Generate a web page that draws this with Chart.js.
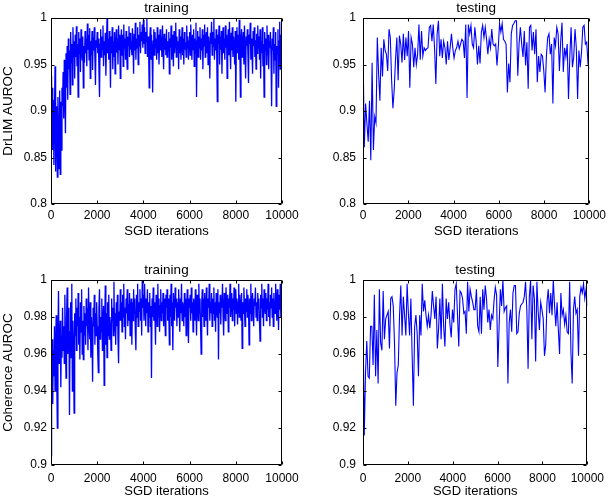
<!DOCTYPE html>
<html>
<head>
<meta charset="utf-8">
<script src="https://cdn.jsdelivr.net/npm/chart.js@4.4.1/dist/chart.umd.min.js"></script>
<style>
  html, body { margin: 0; padding: 0; background: #fff; }
  #wrap { position: relative; width: 610px; height: 503px; }
  #wrap canvas { position: absolute; left: 0; top: 0; }
</style>
</head>
<body>
<div id="wrap">
  <canvas id="c1" width="610" height="503"></canvas>
  <canvas id="c2" width="610" height="503"></canvas>
  <canvas id="c3" width="610" height="503"></canvas>
  <canvas id="c4" width="610" height="503"></canvas>
</div>
<script>
// x axis: SGD iterations
const X_MAX = 10000;
const X_TICKS = [0, 2000, 4000, 6000, 8000, 10000];
const TRAIN_STEP = 25; // iterations between training samples

// y ticks
const DRLIM_TICKS = [0.8, 0.85, 0.9, 0.95, 1];
const COH_TICKS = [0.9, 0.92, 0.94, 0.96, 0.98, 1];

// DrLIM AUROC, training (one value every TRAIN_STEP iterations)
const drlimTrain = [
  0.938, 0.902, 0.925, 0.858, 0.912, 0.842, 0.896, 0.948, 0.835, 0.905, 0.870, 0.829, 0.915, 0.884, 0.838, 0.922, 0.832, 0.910, 0.858, 0.925,
  0.905, 0.942, 0.892, 0.955, 0.918, 0.876, 0.962, 0.925, 0.970, 0.912, 0.978, 0.945, 0.965, 0.918, 0.985, 0.952, 0.972, 0.928, 0.990, 0.958,
  0.975, 0.935, 0.982, 0.958, 0.991, 0.948, 0.972, 0.915, 0.985, 0.962, 0.978, 0.942, 0.988, 0.965, 0.955, 0.980, 0.925, 0.970, 0.952, 0.986,
  0.962, 0.978, 0.948, 0.994, 0.966, 0.982, 0.955, 0.989, 0.935, 0.975, 0.960, 0.986, 0.944, 0.979, 0.965, 0.990, 0.958, 0.928, 0.976, 0.968,
  0.985, 0.962, 0.978, 0.945, 0.915, 0.972, 0.988, 0.958, 0.980, 0.966, 0.992, 0.948, 0.975, 0.960, 0.984, 0.938, 0.970, 0.999, 0.962, 0.978,
  0.955, 0.986, 0.968, 0.925, 0.980, 0.962, 0.990, 0.945, 0.975, 0.958, 0.985, 0.940, 0.972, 0.988, 0.963, 0.978, 0.950, 0.992, 0.966, 0.982,
  0.935, 0.975, 0.988, 0.960, 0.982, 0.948, 0.993, 0.968, 0.978, 0.955, 0.986, 0.962, 0.945, 0.980, 0.970, 0.991, 0.958, 0.984, 0.966, 0.975,
  0.960, 0.989, 0.972, 0.940, 0.983, 0.965, 0.995, 0.955, 0.978, 0.968, 0.990, 0.950, 0.982, 0.970, 0.996, 0.962, 0.985, 0.975, 0.993, 0.968,
  0.998, 0.972, 0.990, 0.962, 0.985, 0.975, 0.999, 0.958, 0.980, 0.968, 0.925, 0.978, 0.990, 0.955, 0.982, 0.965, 0.920, 0.975, 0.988, 0.960,
  0.985, 0.968, 0.978, 0.955, 0.990, 0.962, 0.982, 0.950, 0.975, 0.988, 0.965, 0.980, 0.958, 0.992, 0.970, 0.945, 0.983, 0.966, 0.978, 0.960,
  0.988, 0.958, 0.975, 0.965, 0.985, 0.940, 0.978, 0.968, 0.992, 0.955, 0.982, 0.970, 0.948, 0.986, 0.962, 0.978, 0.995, 0.958, 0.980, 0.966,
  0.975, 0.945, 0.988, 0.962, 0.980, 0.955, 0.972, 0.990, 0.960, 0.978, 0.950, 0.985, 0.966, 0.974, 0.958, 0.992, 0.968, 0.980, 0.955, 0.975,
  0.985, 0.960, 0.993, 0.970, 0.955, 0.982, 0.966, 0.988, 0.948, 0.978, 0.962, 0.995, 0.915, 0.975, 0.986, 0.958, 0.980, 0.968, 0.990, 0.955,
  0.978, 0.965, 0.988, 0.945, 0.982, 0.970, 0.993, 0.958, 0.976, 0.985, 0.962, 0.990, 0.950, 0.980, 0.968, 0.935, 0.984, 0.972, 0.996, 0.960,
  0.985, 0.970, 0.999, 0.955, 0.978, 0.965, 0.988, 0.960, 0.910, 0.982, 0.972, 0.992, 0.950, 0.980, 0.966, 0.986, 0.940, 0.975, 0.990, 0.962,
  0.978, 0.955, 0.992, 0.968, 0.982, 0.935, 0.975, 0.988, 0.960, 0.996, 0.970, 0.945, 0.984, 0.965, 0.990, 0.958, 0.980, 0.972, 0.950, 0.986,
  0.910, 0.975, 0.990, 0.962, 0.982, 0.955, 0.998, 0.968, 0.915, 0.978, 0.988, 0.958, 0.972, 0.985, 0.950, 0.992, 0.965, 0.935, 0.980, 0.970,
  0.988, 0.960, 0.930, 0.982, 0.972, 0.995, 0.955, 0.978, 0.965, 0.940, 0.986, 0.970, 0.990, 0.958, 0.976, 0.945, 0.983, 0.962, 0.992, 0.968,
  0.980, 0.955, 0.988, 0.935, 0.975, 0.962, 0.990, 0.948, 0.972, 0.915, 0.985, 0.965, 0.978, 0.950, 0.992, 0.960, 0.982, 0.945, 0.975, 0.968,
  0.985, 0.958, 0.905, 0.978, 0.965, 0.990, 0.940, 0.972, 0.955, 0.985, 0.905, 0.970, 0.962, 0.988, 0.925, 0.975, 0.996, 0.945, 0.982, 0.950,
  0.958
];

// DrLIM AUROC, testing (evenly spaced over 0..X_MAX)
const drlimTest = [
  0.972, 0.861, 0.908, 0.887, 0.867, 0.911, 0.847, 0.952, 0.858, 0.894,
  0.887, 0.979, 0.940, 0.911, 0.968, 0.937, 0.977, 0.965, 0.961, 0.943,
  0.988, 0.979, 0.933, 0.903, 0.923, 0.955, 0.979, 0.933, 0.981, 0.972,
  0.952, 0.983, 0.955, 0.979, 0.959, 0.986, 0.925, 0.979, 0.972, 0.947,
  0.968, 0.950, 0.961, 0.993, 0.955, 0.986, 0.959, 0.968, 0.965, 0.967,
  0.968, 0.990, 0.992, 0.975, 0.993, 0.968, 0.929, 0.983, 0.997, 0.959,
  0.977, 0.957, 0.975, 0.968, 0.950, 0.975, 0.955, 0.968, 0.983, 0.968,
  0.957, 0.965, 0.968, 0.975, 0.967, 0.972, 0.977, 0.975, 0.957, 0.993,
  0.914, 0.993, 0.983, 0.992, 0.972, 0.968, 0.990, 0.975, 0.950,
  0.970, 0.951, 0.985, 0.992, 0.979, 0.990, 0.977, 0.961, 0.977, 0.968,
  0.988, 0.972, 0.970, 0.972, 0.949, 0.968, 0.994, 0.985, 0.994, 0.977,
  0.975, 0.972, 0.920, 0.951, 0.931, 0.983, 0.992, 0.994, 0.997, 0.997,
  0.938, 0.972, 0.990, 0.972, 0.958, 0.986, 0.949, 0.974, 0.924, 0.990,
  0.992, 0.965, 0.985, 0.961, 0.988, 0.931, 0.959, 0.942, 0.961, 0.959,
  0.943, 0.920, 0.959, 0.979, 0.983, 0.961, 0.972, 0.908, 0.979, 0.970,
  0.990, 0.983, 0.943, 0.975, 0.995, 0.942, 0.968, 0.958, 0.972, 0.913,
  0.958, 0.990, 0.947, 0.958, 0.988, 0.968, 0.913, 0.965, 0.947, 0.963,
  0.990, 0.992, 0.972, 0.974, 0.951, 0.945
];

// Coherence AUROC, training (one value every TRAIN_STEP iterations)
const cohTrain = [
  0.905, 0.958, 0.968, 0.933, 0.962, 0.948, 0.975, 0.940, 0.965, 0.981, 0.945, 0.920, 0.970, 0.994, 0.955, 0.962, 0.978, 0.942, 0.970, 0.958,
  0.985, 0.962, 0.975, 0.955, 0.992, 0.968, 0.947, 0.980, 0.996, 0.960, 0.975, 0.985, 0.927, 0.972, 0.988, 0.958, 0.998, 0.940, 0.978, 0.965,
  0.928, 0.982, 0.970, 0.990, 0.962, 0.985, 0.975, 0.993, 0.965, 0.980, 0.957, 0.988, 0.972, 0.995, 0.960, 0.978, 0.957, 0.986, 0.970, 0.982,
  0.965, 0.990, 0.975, 0.985, 0.962, 0.996, 0.978, 0.968, 0.988, 0.958, 0.980, 0.972, 0.945, 0.985, 0.975, 0.992, 0.965, 0.982, 0.970, 0.988,
  0.975, 0.960, 0.950, 0.985, 0.995, 0.968, 0.980, 0.972, 0.990, 0.962, 0.978, 0.986, 0.943, 0.975, 0.997, 0.965, 0.982, 0.958, 0.988, 0.970,
  0.992, 0.968, 0.980, 0.975, 0.962, 0.990, 0.978, 0.985, 0.970, 0.999, 0.972, 0.982, 0.965, 0.988, 0.975, 0.992, 0.968, 0.955, 0.983, 0.978,
  0.995, 0.978, 0.988, 0.972, 0.992, 0.980, 0.998, 0.975, 0.985, 0.968, 0.990, 0.982, 0.995, 0.975, 0.987, 0.978, 0.993, 0.970, 0.985, 0.990,
  0.965, 0.988, 0.978, 0.995, 0.982, 0.990, 0.972, 0.962, 0.992, 0.980, 0.998, 0.975, 0.988, 0.983, 0.995, 0.978, 0.990, 0.970, 1.000, 0.985,
  0.992, 0.978, 0.998, 0.985, 0.975, 0.990, 0.982, 0.995, 0.972, 0.988, 0.980, 0.993, 0.975, 0.986, 0.947, 0.990, 0.980, 0.996, 0.978, 0.988,
  0.982, 0.965, 0.992, 0.985, 0.975, 0.998, 0.980, 0.990, 0.972, 0.986, 0.995, 0.978, 0.988, 0.982, 0.993, 0.975, 0.990, 0.984, 0.970, 0.992,
  0.985, 0.995, 0.978, 0.990, 0.982, 0.965, 0.992, 0.980, 0.998, 0.975, 0.988, 0.962, 0.993, 0.983, 0.978, 0.996, 0.985, 0.990, 0.975, 0.988,
  0.980, 0.995, 0.985, 0.972, 0.990, 0.982, 0.998, 0.978, 0.988, 0.984, 0.975, 0.993, 0.980, 0.990, 0.970, 0.986, 0.995, 0.978, 0.966, 0.990,
  0.985, 0.992, 0.978, 0.996, 0.982, 0.988, 0.972, 0.990, 0.985, 0.978, 0.995, 0.983, 0.970, 0.992, 0.985, 0.978, 0.998, 0.982, 0.990, 0.975,
  0.960, 0.988, 0.995, 0.980, 0.990, 0.975, 0.993, 0.985, 0.978, 0.996, 0.982, 0.970, 0.990, 0.985, 0.998, 0.978, 0.988, 0.982, 0.993, 0.975,
  0.990, 0.982, 0.996, 0.978, 0.988, 0.972, 0.993, 0.985, 0.980, 0.995, 0.957, 0.988, 0.982, 0.992, 0.976, 0.990, 0.985, 0.998, 0.980, 0.970,
  0.993, 0.985, 0.978, 0.996, 0.988, 0.982, 0.992, 0.972, 0.990, 0.985, 0.998, 0.980, 0.988, 0.993, 0.978, 0.990, 0.984, 0.996, 0.975, 0.988,
  0.995, 0.982, 0.990, 0.976, 0.988, 0.998, 0.980, 0.992, 0.985, 0.978, 0.993, 0.963, 0.988, 0.982, 0.996, 0.985, 0.975, 0.990, 0.983, 0.995,
  0.980, 0.992, 0.986, 0.965, 0.990, 0.982, 0.998, 0.978, 0.988, 0.993, 0.984, 0.975, 0.990, 0.986, 0.996, 0.980, 0.988, 0.978, 0.993, 0.985,
  0.990, 0.978, 0.967, 0.992, 0.985, 0.998, 0.980, 0.990, 0.975, 0.995, 0.986, 0.982, 0.993, 0.978, 0.990, 0.984, 0.998, 0.980, 0.988, 0.975,
  0.992, 0.985, 0.996, 0.980, 0.990, 0.975, 0.993, 0.986, 0.982, 0.998, 0.988, 0.978, 0.995, 0.985, 0.973, 0.992, 0.984, 0.998, 0.980, 0.990,
  0.985
];

// Coherence AUROC, testing (evenly spaced over 0..X_MAX)
const cohTest = [
  0.979, 0.916, 0.950, 0.967, 0.948, 0.947, 0.975, 0.975, 0.954, 0.992,
  0.948, 0.973, 0.944, 0.995, 0.966, 0.962, 0.994, 0.968, 0.979, 0.981,
  0.983, 0.963, 0.990, 0.991, 0.986, 0.966, 0.932, 0.950, 0.954, 0.981,
  0.997, 0.970, 0.991, 0.981, 0.970, 0.998, 0.982, 0.970, 0.990, 0.959,
  0.932, 0.975, 0.981, 0.971, 0.948, 0.981, 0.970, 0.998, 0.983, 0.989,
  0.981, 0.975, 0.981, 0.974, 0.981, 0.994, 0.986, 0.979, 0.991, 0.963,
  0.974, 0.990, 0.968, 0.998, 0.975, 0.964, 0.990, 0.979, 0.988, 0.976,
  0.969, 0.984, 0.977, 0.995, 0.998, 0.981, 0.964, 0.994, 0.993, 0.990,
  0.982, 0.983, 0.971, 0.999, 0.983, 0.995, 0.991, 0.988, 0.984, 0.984,
  0.995, 0.975, 0.972,
  0.991, 0.971, 0.995, 0.984, 0.997, 0.990, 0.977, 0.984, 0.973, 0.981,
  0.979, 0.989, 0.996, 0.992, 0.953, 0.975, 0.995, 0.986, 1.000, 0.983,
  0.985, 0.986, 0.944, 0.977, 0.984, 0.972, 0.993, 0.997, 0.997, 0.971,
  0.972, 0.982, 0.986, 0.987, 0.988, 0.991, 0.999, 0.984, 0.952, 0.991,
  1.000, 0.968, 0.997, 0.990, 0.956, 0.999, 0.983, 0.973, 0.988, 0.984,
  0.979, 0.959, 0.965, 0.988, 0.995, 0.982, 0.993, 0.981, 1.000, 0.986,
  0.975, 0.988, 0.973, 0.960, 0.993, 0.981, 0.984, 0.976, 0.981, 0.972,
  0.971, 0.999, 0.961, 0.944, 0.984, 0.991, 0.982, 0.984, 0.959, 0.991,
  0.996, 0.993, 0.998, 0.990, 0.995, 0.986
];

const FONT = "'Liberation Sans', Arial, Helvetica, sans-serif";
const TITLE_SIZE = 13.5;
const LABEL_SIZE = 13;
const TICK_SIZE = 12;
const LH = 1.2;
const LINE_COLOR = '#0000ff';

// MATLAB-like box with inward tick marks on all four sides
const boxPlugin = {
  id: 'matlabBox',
  afterDatasetsDraw(chart) {
    const { ctx, chartArea: a, scales: { x, y } } = chart;
    const L = Math.round(a.left) + 0.5, R = Math.round(a.right) - 0.5;
    const T = Math.round(a.top) + 0.5, B = Math.round(a.bottom) - 0.5;
    const len = 3;
    ctx.save();
    ctx.strokeStyle = '#000';
    ctx.lineWidth = 1;
    ctx.beginPath();
    ctx.rect(L, T, R - L, B - T);
    x.ticks.forEach(t => {
      const px = Math.round(x.getPixelForValue(t.value)) + 0.5;
      ctx.moveTo(px, B); ctx.lineTo(px, B - len);
      ctx.moveTo(px, T); ctx.lineTo(px, T + len);
    });
    y.ticks.forEach(t => {
      const py = Math.round(y.getPixelForValue(t.value)) + 0.5;
      ctx.moveTo(L, py); ctx.lineTo(L + len, py);
      ctx.moveTo(R, py); ctx.lineTo(R - len, py);
    });
    ctx.stroke();
    ctx.restore();
  }
};

function makePanel(id, p) {
  const lhT = TITLE_SIZE * LH, lhL = LABEL_SIZE * LH;
  const padLeft = p.yTitle ? 0 : p.area.l - 58;
  const yW = p.area.l - padLeft;
  const xs = p.step ? p.values.map((v, i) => i * p.step) : p.values.map((v, i) => i * X_MAX / (p.values.length - 1));
  return new Chart(document.getElementById(id), {
    type: 'line',
    data: {
      datasets: [{
        data: p.values.map((v, i) => ({ x: xs[i], y: v })),
        borderColor: LINE_COLOR,
        borderWidth: p.lineWidth,
        pointRadius: 0,
        tension: 0,
        fill: false
      }]
    },
    options: {
      responsive: false,
      animation: false,
      events: [],
      layout: {
        padding: {
          left: padLeft,
          right: 610 - p.area.r,
          top: p.titleY - lhT / 2,
          bottom: 503 - p.area.b - p.xH
        }
      },
      plugins: {
        legend: { display: false },
        tooltip: { enabled: false },
        title: {
          display: true,
          text: p.title,
          fullSize: false,
          color: '#000',
          font: { family: FONT, size: TITLE_SIZE, weight: 'normal', lineHeight: LH },
          padding: { top: 0, bottom: p.area.t - p.titleY - lhT / 2 }
        }
      },
      scales: {
        x: {
          type: 'linear',
          min: 0,
          max: X_MAX,
          grid: { display: false, drawTicks: false },
          border: { display: false },
          afterBuildTicks: s => { s.ticks = X_TICKS.map(v => ({ value: v })); },
          afterFit: s => { s.height = p.xH; },
          ticks: {
            color: '#000',
            padding: p.xPad,
            maxRotation: 0,
            font: { family: FONT, size: TICK_SIZE },
            callback: v => String(v)
          },
          title: {
            display: true,
            text: 'SGD iterations',
            color: '#000',
            font: { family: FONT, size: LABEL_SIZE, lineHeight: LH },
            padding: { top: 0, bottom: p.area.b + p.xH - lhL / 2 - p.xTitleY }
          }
        },
        y: {
          min: p.yTicks[0],
          max: p.yTicks[p.yTicks.length - 1],
          grid: { display: false, drawTicks: false },
          border: { display: false },
          afterBuildTicks: s => { s.ticks = p.yTicks.map(v => ({ value: v })); },
          afterFit: s => { s.width = yW; },
          ticks: {
            color: '#000',
            padding: p.yPad,
            font: { family: FONT, size: TICK_SIZE },
            callback: v => String(+v.toFixed(3))
          },
          title: {
            display: !!p.yTitle,
            text: p.yTitle || '',
            color: '#000',
            font: { family: FONT, size: TITLE_SIZE, lineHeight: LH },
            padding: { top: 8.5 - lhT / 2, bottom: 0 }
          }
        }
      }
    },
    plugins: [boxPlugin]
  });
}

const TOP = { t: 18, b: 204 };
const BOT = { t: 280, b: 465 };

makePanel('c1', { area: { l: 51, r: 282, ...TOP }, title: 'training', titleY: 8.5, yTitle: 'DrLIM AUROC',
  yTicks: DRLIM_TICKS, yPad: 4, xPad: 4, xH: 40, xTitleY: 231.7, values: drlimTrain, step: TRAIN_STEP, lineWidth: 1.3 });
makePanel('c2', { area: { l: 363, r: 592, ...TOP }, title: 'testing', titleY: 8.5, yTitle: null,
  yTicks: DRLIM_TICKS, yPad: 7, xPad: 4, xH: 40, xTitleY: 231.7, values: drlimTest, lineWidth: 1.1 });
makePanel('c3', { area: { l: 51, r: 282, ...BOT }, title: 'training', titleY: 270, yTitle: 'Coherence AUROC',
  yTicks: COH_TICKS, yPad: 4, xPad: 6, xH: 36, xTitleY: 491.7, values: cohTrain, step: TRAIN_STEP, lineWidth: 1.3 });
makePanel('c4', { area: { l: 363, r: 592, ...BOT }, title: 'testing', titleY: 270, yTitle: null,
  yTicks: COH_TICKS, yPad: 7, xPad: 6, xH: 36, xTitleY: 491.7, values: cohTest, lineWidth: 1.1 });
</script>
</body>
</html>
